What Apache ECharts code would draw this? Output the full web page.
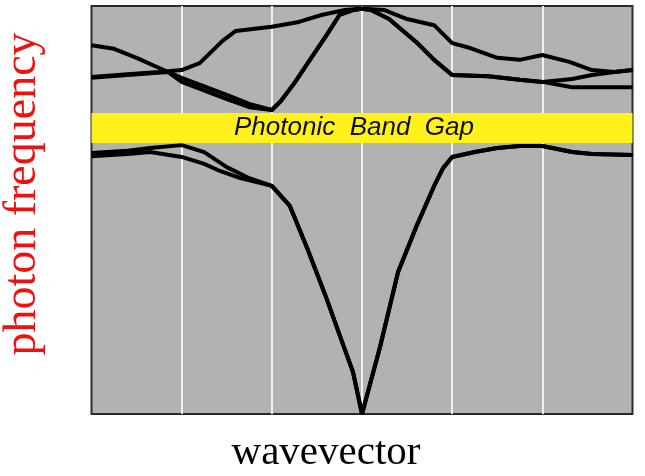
<!DOCTYPE html>
<html>
<head>
<meta charset="utf-8">
<script src="https://cdn.jsdelivr.net/npm/echarts@6/dist/echarts.min.js"></script>
<style>
html,body{margin:0;padding:0;background:#fff;}
#chart{width:645px;height:476px;}
</style>
</head>
<body>
<div id="chart"></div>
<script>
// wavevector positions (grid lines at integers 0..6) and photon frequency (normalized 0..1)
const band1X = [0, 0.4, 0.65, 1, 1.25, 1.4, 1.65, 2, 2.2, 2.4, 2.6, 2.8, 2.9, 3, 3.2, 3.4, 3.6, 3.8, 3.9, 4, 4.25, 4.5, 4.75, 5, 5.33, 5.55, 6];
const band1Y = [0.632, 0.637, 0.642, 0.630, 0.613, 0.598, 0.578, 0.559, 0.510, 0.402, 0.287, 0.164, 0.103, 0.0, 0.164, 0.348, 0.458, 0.559, 0.603, 0.630, 0.642, 0.652, 0.657, 0.657, 0.642, 0.637, 0.635];

const band2X = [0, 0.4, 0.65, 1, 1.25, 1.5, 1.75, 2, 2.2, 2.4, 2.6, 2.8, 2.9, 3, 3.2, 3.4, 3.6, 3.8, 3.9, 4, 4.25, 4.5, 4.75, 5, 5.33, 5.55, 6];
const band2Y = [0.640, 0.645, 0.652, 0.659, 0.642, 0.605, 0.578, 0.559, 0.510, 0.402, 0.287, 0.164, 0.103, 0.0, 0.164, 0.348, 0.458, 0.559, 0.603, 0.630, 0.642, 0.652, 0.657, 0.657, 0.642, 0.637, 0.635];

const band3X = [0, 0.4, 0.85, 1, 1.5, 1.75, 2, 2.1, 2.25, 2.45, 2.6, 2.75, 2.9, 3, 3.1, 3.3, 3.6, 3.8, 4, 4.4, 4.75, 5, 5.33, 6];
const band3Y = [0.824, 0.831, 0.838, 0.814, 0.772, 0.752, 0.745, 0.767, 0.811, 0.877, 0.926, 0.978, 0.990, 0.993, 0.990, 0.968, 0.912, 0.868, 0.831, 0.828, 0.819, 0.814, 0.801, 0.801];

const band4X = [0, 0.4, 0.75, 1, 1.2, 1.45, 1.6, 2, 2.3, 2.55, 2.8, 3, 3.25, 3.5, 3.8, 4, 4.2, 4.5, 4.75, 5, 5.3, 5.55, 5.8, 6];
const band4Y = [0.826, 0.833, 0.838, 0.843, 0.860, 0.914, 0.939, 0.949, 0.961, 0.978, 0.990, 0.993, 0.990, 0.968, 0.953, 0.909, 0.897, 0.873, 0.868, 0.880, 0.863, 0.843, 0.838, 0.843];

const band5X = [0, 0.25, 0.5, 0.75, 0.85, 1, 1.5, 1.75, 2, 2.1, 2.25, 2.45, 2.6, 2.75, 2.9, 3, 3.1, 3.3, 3.6, 3.8, 4, 4.4, 4.75, 5, 5.33, 5.55, 5.8, 6];
const band5Y = [0.904, 0.895, 0.873, 0.848, 0.838, 0.824, 0.782, 0.760, 0.745, 0.767, 0.811, 0.877, 0.926, 0.978, 0.990, 0.993, 0.990, 0.968, 0.912, 0.868, 0.831, 0.828, 0.819, 0.814, 0.821, 0.831, 0.838, 0.843];

const gapLow = 0.664;
const gapHigh = 0.738;
const gapLabel = 'Photonic  Band  Gap';
const xLabel = 'wavevector';
const yLabel = 'photon frequency';

function pairs(xs, ys) { return xs.map((x, i) => [x, ys[i]]); }

const lineStyle = { color: '#000', width: 4 };
function bandSeries(xs, ys) {
  return { type: 'line', data: pairs(xs, ys), showSymbol: false, symbol: 'none',
    lineStyle: lineStyle, z: 3, animation: false, silent: true };
}

const chart = echarts.init(document.getElementById('chart'), null, { renderer: 'canvas' });
const series = [
  bandSeries(band1X, band1Y),
  bandSeries(band2X, band2Y),
  bandSeries(band3X, band3Y),
  bandSeries(band4X, band4Y),
  bandSeries(band5X, band5Y)
];
series.push({
  type: 'line', data: [], silent: true, animation: false, z: 1,
  markArea: {
    silent: true,
    itemStyle: { color: '#fff21c', opacity: 1 },
    label: {
      show: true, position: 'inside', offset: [-8, 0],
      fontFamily: 'Liberation Sans', fontStyle: 'italic', fontSize: 26, color: '#111'
    },
    data: [[{ yAxis: gapLow, name: gapLabel }, { yAxis: gapHigh }]]
  }
});

chart.setOption({
  animation: false,
  backgroundColor: '#ffffff',
  grid: {
    left: 91.5, right: 12.5, top: 6, bottom: 62,
    containLabel: false, outerBoundsMode: 'none',
    show: true, backgroundColor: '#b2b2b2', borderColor: '#2a2a2a', borderWidth: 2
  },
  xAxis: {
    type: 'value', min: 0, max: 6, interval: 1,
    axisLine: { show: false }, axisTick: { show: false }, axisLabel: { show: false },
    splitLine: { show: true, showMinLine: false, showMaxLine: false, lineStyle: { color: '#f2f2f2', width: 2 } },
    name: xLabel, nameLocation: 'middle', nameGap: 19,
    nameTextStyle: { fontFamily: 'Liberation Serif', fontSize: 41, color: '#000', padding: [0, 72, 0, 0] }
  },
  yAxis: {
    type: 'value', min: 0, max: 1,
    axisLine: { show: false }, axisTick: { show: false }, axisLabel: { show: false },
    splitLine: { show: false },
    name: yLabel, nameLocation: 'middle', nameGap: 46,
    nameTextStyle: { fontFamily: 'Liberation Serif', fontSize: 46, color: '#ee1111', padding: [0, 0, 0, 32] }
  },
  series: series
});
</script>
</body>
</html>
